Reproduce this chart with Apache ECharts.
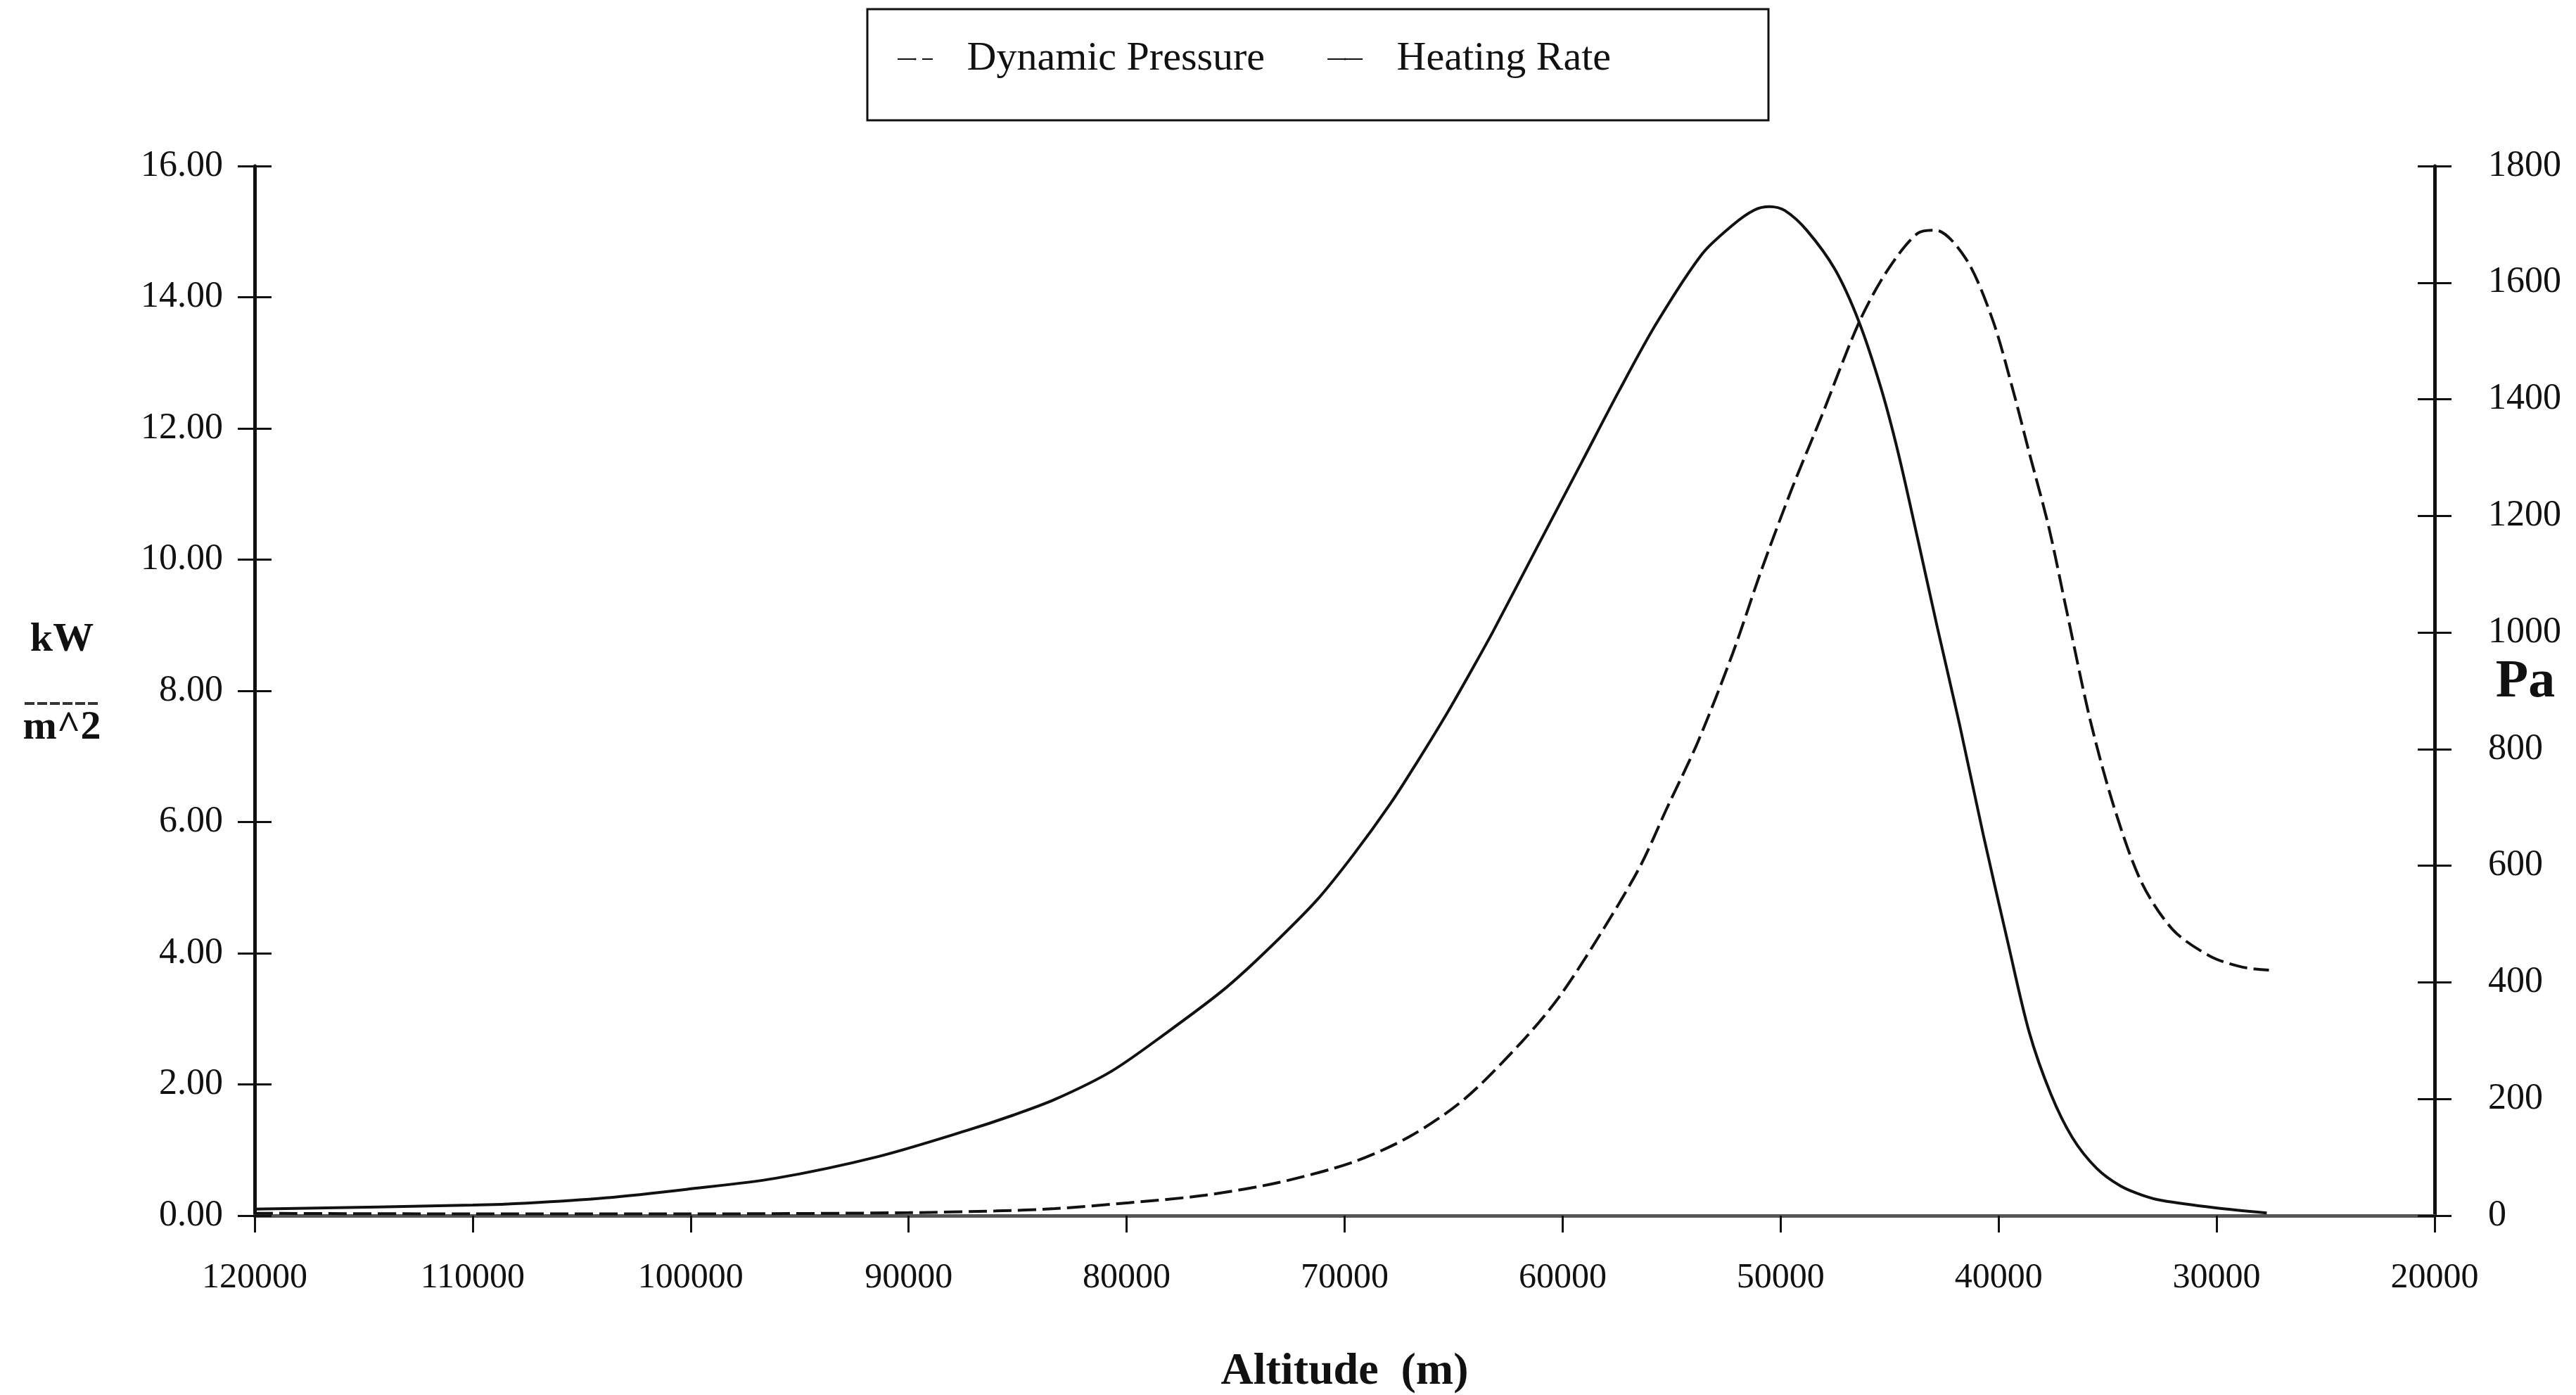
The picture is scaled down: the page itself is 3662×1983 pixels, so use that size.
<!DOCTYPE html>
<html>
<head>
<meta charset="utf-8">
<script src="https://cdn.jsdelivr.net/npm/echarts@6/dist/echarts.min.js"></script>
<style>
  html, body { margin: 0; padding: 0; background: #fff; }
  #chart { width: 3662px; height: 1983px; }
</style>
</head>
<body>
<div id="chart"></div>
<script>
// heating rate (kW/m^2) vs altitude (m)
var heatAlt = [120000, 110000, 107500, 103900, 100200, 96100, 91400, 87400, 85300, 83300, 80700,
  78200, 75600, 73700, 71300, 69600, 67900, 66700, 65300, 64100, 63200, 61200, 59100,
  57400, 55700, 53600, 52200, 51200, 50500, 49800, 48800, 47500, 46400, 45400, 44600, 43700,
  42800, 41800, 40700, 39600, 38600, 37600, 36600, 35500, 34400, 33400, 32500, 30100, 27700];
var heatRate = [0.10, 0.16, 0.19, 0.27, 0.40, 0.57, 0.90, 1.29, 1.52, 1.77, 2.20,
  2.78, 3.43, 4.00, 4.80, 5.50, 6.28, 6.90, 7.66, 8.36, 8.90, 10.17, 11.50,
  12.58, 13.60, 14.66, 15.10, 15.33, 15.38, 15.32, 15.02, 14.42, 13.62, 12.62, 11.62, 10.30,
  8.95, 7.50, 5.80, 4.20, 2.80, 1.85, 1.18, 0.72, 0.45, 0.31, 0.23, 0.12, 0.04];

// dynamic pressure (Pa) vs altitude (m)
var pressAlt = [120000, 110000, 100000, 90000, 86000, 83300, 79900, 76400, 73000, 69600,
  67000, 64500, 61900, 60200, 58500, 56500, 55200, 53800, 52200, 50900, 49500, 48100,
  46400, 45100, 43700, 42900, 41500, 40300, 39400, 38600, 37700, 36900, 35800, 34700,
  33450, 32000, 30300, 28800, 27600];
var pressure = [4, 3, 3, 5, 8, 12, 22, 35, 57, 92,
  136, 200, 297, 373, 469, 595, 700, 812, 964, 1105, 1245, 1373,
  1532, 1621, 1685, 1690, 1641, 1539, 1424, 1309, 1181, 1041, 850, 700,
  572, 490, 445, 426, 421];

var seriesNames = ['Dynamic Pressure', 'Heating Rate'];

function pairs(xs, ys) {
  return xs.map(function (x, i) { return [x, ys[i]]; });
}

var chart = echarts.init(document.getElementById('chart'));

var serif = '"Liberation Serif", "Times New Roman", serif';
var ink = '#111';

var option = {
  backgroundColor: '#fff',
  animation: false,
  grid: { left: 362, right: 201, top: 236, bottom: 255, containLabel: false, outerBoundsMode: 'none' },
  legend: {
    left: 1270,
    top: 50,
    itemWidth: 50,
    itemHeight: 4,
    itemGap: 88,
    data: seriesNames,
    formatter: function (name) { return '   ' + name; },
    textStyle: { fontFamily: serif, fontSize: 58, color: ink }
  },
  xAxis: {
    type: 'value',
    inverse: true,
    min: 20000,
    max: 120000,
    interval: 10000,
    name: 'Altitude  (m)',
    nameLocation: 'middle',
    nameGap: 190,
    nameTextStyle: { fontFamily: serif, fontSize: 64, fontWeight: 'bold', color: ink },
    axisLine: { onZero: false, lineStyle: { color: '#555', width: 5 } },
    axisTick: { inside: false, length: 24, lineStyle: { color: ink, width: 3 } },
    axisLabel: { fontFamily: serif, fontSize: 50, color: ink, margin: 64,
      formatter: function (v) { return String(v); } },
    splitLine: { show: false }
  },
  yAxis: [
    {
      type: 'value', position: 'left', min: 0, max: 16, interval: 2,
      axisLine: { show: true, lineStyle: { color: ink, width: 5 } },
      axisTick: { show: true, inside: false, length: 24, lineStyle: { color: ink, width: 3 } },
      axisLabel: { fontFamily: serif, fontSize: 52, color: ink, margin: 45,
        formatter: function (v) { return v.toFixed(2); } },
      splitLine: { show: false }
    },
    {
      type: 'value', position: 'right', min: 0, max: 1800, interval: 200,
      axisLine: { show: true, lineStyle: { color: ink, width: 5 } },
      axisTick: { show: true, inside: false, length: 24, lineStyle: { color: ink, width: 3 } },
      axisLabel: { fontFamily: serif, fontSize: 52, color: ink, margin: 76,
        formatter: function (v) { return String(v); } },
      splitLine: { show: false }
    },
    // second copies only to draw the inner half of the crossing ticks
    {
      type: 'value', position: 'left', min: 0, max: 16, interval: 2,
      axisLine: { show: false },
      axisTick: { show: true, inside: true, length: 24, lineStyle: { color: ink, width: 3 } },
      axisLabel: { show: false },
      splitLine: { show: false }
    },
    {
      type: 'value', position: 'right', min: 0, max: 1800, interval: 200,
      axisLine: { show: false },
      axisTick: { show: true, inside: true, length: 24, lineStyle: { color: ink, width: 3 } },
      axisLabel: { show: false },
      splitLine: { show: false }
    }
  ],
  series: [
    {
      name: seriesNames[0],
      type: 'line',
      yAxisIndex: 1,
      symbol: 'none',
      smooth: 0.3,
      data: pairs(pressAlt, pressure),
      lineStyle: { color: ink, width: 4, type: [26, 9] },
      itemStyle: { color: ink }
    },
    {
      name: seriesNames[1],
      type: 'line',
      yAxisIndex: 0,
      symbol: 'none',
      smooth: 0.3,
      data: pairs(heatAlt, heatRate),
      lineStyle: { color: ink, width: 4 },
      itemStyle: { color: ink }
    }
  ],
  graphic: [
    // legend frame
    { type: 'rect', shape: { x: 1233, y: 13, width: 1281, height: 158 },
      style: { fill: 'none', stroke: ink, lineWidth: 3 } },
    // left axis title kW / m^2
    { type: 'text', style: { text: 'kW', x: 88, y: 910, textAlign: 'center', textVerticalAlign: 'middle',
      font: 'bold 58px ' + serif, fill: ink } },
    { type: 'line', shape: { x1: 35, y1: 1000, x2: 140, y2: 1000 },
      style: { stroke: '#333', lineWidth: 4, lineDash: [14, 4] } },
    { type: 'text', style: { text: 'm^2', x: 88, y: 1035, textAlign: 'center', textVerticalAlign: 'middle',
      font: 'bold 58px ' + serif, fill: ink } },
    // right axis title
    { type: 'text', style: { text: 'Pa', x: 3590, y: 970, textAlign: 'center', textVerticalAlign: 'middle',
      font: 'bold 76px ' + serif, fill: ink } }
  ]
};

chart.setOption(option);
</script>
</body>
</html>
